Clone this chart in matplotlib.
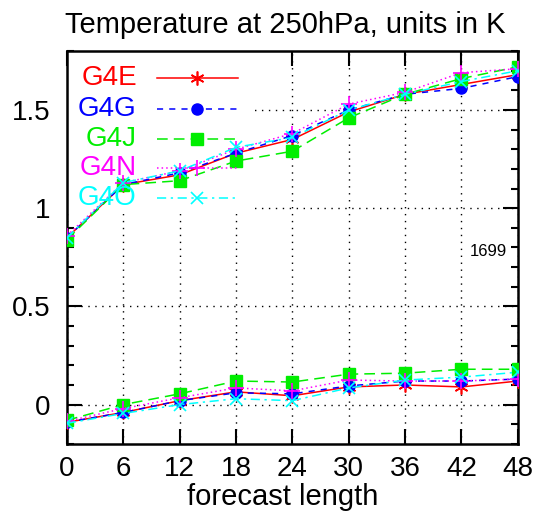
import matplotlib
matplotlib.use("Agg")
import matplotlib.pyplot as plt
from matplotlib.patches import Rectangle
from matplotlib.ticker import MultipleLocator

plt.rcParams["font.family"] = ["Liberation Sans", "DejaVu Sans"]

# forecast hours
hours = [0, 6, 12, 18, 24, 30, 36, 42, 48]
names = ["G4E", "G4G", "G4J", "G4N", "G4O"]

# upper curves (rms)
rms_g4e = [0.85, 1.12, 1.17, 1.28, 1.35, 1.49, 1.58, 1.63, 1.68]
rms_g4g = [0.85, 1.12, 1.18, 1.28, 1.37, 1.50, 1.58, 1.61, 1.67]
rms_g4j = [0.84, 1.12, 1.14, 1.24, 1.29, 1.46, 1.58, 1.66, 1.72]
rms_g4n = [0.86, 1.13, 1.19, 1.30, 1.38, 1.53, 1.59, 1.69, 1.71]
rms_g4o = [0.85, 1.13, 1.19, 1.31, 1.36, 1.50, 1.58, 1.645, 1.70]

# lower curves (bias)
bias_g4e = [-0.09, -0.04, 0.02, 0.065, 0.045, 0.09, 0.10, 0.09, 0.12]
bias_g4g = [-0.09, -0.04, 0.02, 0.06, 0.055, 0.095, 0.12, 0.12, 0.13]
bias_g4j = [-0.08, 0.00, 0.055, 0.12, 0.115, 0.155, 0.16, 0.18, 0.18]
bias_g4n = [-0.085, -0.02, 0.035, 0.085, 0.07, 0.125, 0.12, 0.12, 0.13]
bias_g4o = [-0.095, -0.045, 0.00, 0.03, 0.02, 0.085, 0.125, 0.14, 0.165]

rms = [rms_g4e, rms_g4g, rms_g4j, rms_g4n, rms_g4o]
bias = [bias_g4e, bias_g4g, bias_g4j, bias_g4n, bias_g4o]

xticks = [0, 6, 12, 18, 24, 30, 36, 42, 48]
yticks = [0, 0.5, 1, 1.5]
ytick_labels = ["0", "0.5", "1", "1.5"]

styles = [
    dict(color="#ff0000", linestyle="-", marker=(6, 2, 0), markersize=10, markeredgewidth=1.2),
    dict(color="#0000ff", linestyle=(0, (4, 4)), marker="o", markersize=8),
    dict(color="#00ee00", linestyle=(0, (7, 4)), marker="s", markersize=9),
    dict(color="#ff00ff", linestyle=(0, (1, 2)), marker="+", markersize=11, markeredgewidth=1.2),
    dict(color="#00ffff", linestyle=(0, (6, 3, 1.5, 3)), marker="x", markersize=9, markeredgewidth=1.2),
]

fig = plt.figure(figsize=(5.4, 5.21), dpi=100)
ax = fig.add_axes([0.124, 0.148, 0.835, 0.754])

ax.set_xlim(0, 48)
ax.set_ylim(-0.2, 1.8)
ax.set_xticks(xticks)
ax.set_xticklabels([str(h) for h in xticks])
ax.set_yticks(yticks)
ax.set_yticklabels(ytick_labels)
ax.yaxis.set_minor_locator(MultipleLocator(0.1))

ax.set_axisbelow(True)
ax.grid(True, which="major", color="black", linestyle=(0, (1, 4)), linewidth=1.0)

ax.tick_params(which="both", direction="in", top=True, right=True, width=1.5, labelsize=20)
ax.tick_params(which="major", length=11)
ax.tick_params(which="minor", length=5)
ax.tick_params(axis="x", pad=9)
ax.tick_params(axis="y", pad=12)
for sp in ax.spines.values():
    sp.set_linewidth(1.8)

# blank key area like gnuplot
ax.add_patch(Rectangle((0, 0.585), 0.41, 0.415, transform=ax.transAxes,
                       facecolor="white", edgecolor="none", zorder=1))

for name, r, b, st in zip(names, rms, bias, styles):
    ax.plot(hours, r, linewidth=1.1, zorder=3, **st)
    ax.plot(hours, b, linewidth=1.1, zorder=3, **st)

# key entries
key_y = [0.931, 0.852, 0.777, 0.702, 0.626]
for name, ky, st in zip(names, key_y, styles):
    ax.text(0.155, ky, name, transform=ax.transAxes, ha="right", va="center",
            fontsize=20, color=st["color"], zorder=4)
    line_st = {k: v for k, v in st.items() if not k.startswith("marker")}
    ax.plot([0.2, 0.379], [ky, ky], transform=ax.transAxes, linewidth=1.1,
            zorder=4, **line_st)
    mk_st = {k: v for k, v in st.items() if k != "linestyle"}
    ax.plot([0.2895], [ky], transform=ax.transAxes, linestyle="none",
            zorder=4, **mk_st)

ax.text(0.975, 0.49, "1699", transform=ax.transAxes, ha="right", va="center", fontsize=12)

fig.text(0.529, 0.952, "Temperature at 250hPa, units in K", ha="center", va="center", fontsize=21)
fig.text(0.523, 0.031, "forecast length", ha="center", va="baseline", fontsize=21)

fig.savefig("out.png", dpi=100, facecolor="white")
